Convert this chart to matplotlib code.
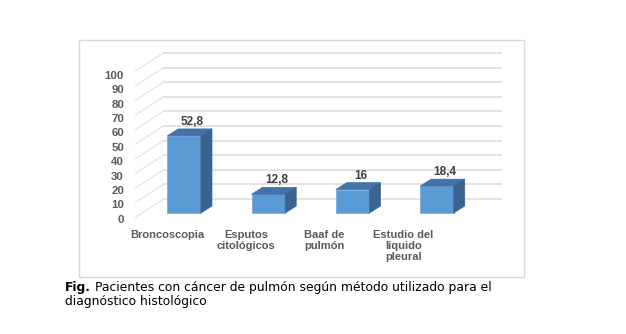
import matplotlib
matplotlib.use("Agg")
import matplotlib.pyplot as plt
from matplotlib.patches import Polygon, Rectangle

categories = ["Broncoscopia", "Esputos\ncitológicos", "Baaf de\npulmón", "Estudio del\nliquido\npleural"]
values = [52.8, 12.8, 16, 18.4]
value_labels = ["52,8", "12,8", "16", "18,4"]
yticks = list(range(0, 101, 10))
caption_bold = "Fig."
caption_line1 = "Pacientes con cáncer de pulmón según método utilizado para el"
caption_line2 = "diagnóstico histológico"

W_PX, H_PX = 626, 334
fig = plt.figure(figsize=(W_PX / 100, H_PX / 100), dpi=100)
fig.patch.set_facecolor("white")

# axes = front plane of the bars (pixels measured from top-left)
ax_l, ax_r, ax_base, ax_top = 142, 479, 213, 67
ax = fig.add_axes([ax_l / W_PX, 1 - ax_base / H_PX, (ax_r - ax_l) / W_PX, (ax_base - ax_top) / H_PX])
ax.set_xlim(-0.5, len(values) - 0.5)
ax.set_ylim(0, 100)
ax.axis("off")

sx = len(values) / (ax_r - ax_l)   # category units per pixel
sy = 100 / (ax_base - ax_top)      # value units per pixel


def off(px, py):
    return px * sx, py * sy


# chart frame
fig.patches.append(Rectangle((79 / W_PX, 1 - 277 / H_PX), 445 / W_PX, 237 / H_PX,
                             transform=fig.transFigure, fill=False, edgecolor="#d9d9d9", lw=1))

grid_c = "#e3e3e3"
bx, by = off(21.5, 14)     # back wall
fx, fy = off(-6.4, -4)     # front edge of floor
x0, x1 = -0.5, len(values) - 0.5
for v in yticks:
    ax.plot([x0 + bx, x1 + bx], [v + by, v + by], color=grid_c, lw=1.4, clip_on=False, zorder=1)
    ax.plot([x0 + fx, x0 + bx], [v + fy, v + by], color=grid_c, lw=0.9, clip_on=False, zorder=1)
    tx, ty = off(-18, -6.8 - v * 0.02)
    ax.text(x0 + tx, v + ty, str(v), ha="right", va="center", fontsize=8.2, fontweight="bold",
            color="#595959", family="Liberation Sans")

# 3D bars
w = 0.40
dx, dy = off(11, 7)
front_c, top_c, side_c = "#5b9bd5", "#4173a8", "#3a6390"
xs = list(range(len(values)))
ax.bar(xs, values, width=w, color=front_c, edgecolor="#6fa8dc", lw=0.5, zorder=3, clip_on=False)
for x, v, lab in zip(xs, values, value_labels):
    l, r = x - w / 2, x + w / 2
    ax.add_patch(Polygon([(l, v), (r, v), (r + dx, v + dy), (l + dx, v + dy)],
                         closed=True, facecolor=top_c, edgecolor=top_c, lw=0.5, zorder=3, clip_on=False))
    ax.add_patch(Polygon([(r, 0), (r + dx, dy), (r + dx, v + dy), (r, v)],
                         closed=True, facecolor=side_c, edgecolor=side_c, lw=0.5, zorder=3, clip_on=False))
    lx, ly = off(8, 14)
    ax.text(x + lx, v + ly, lab, ha="center", va="center", fontsize=8.5, fontweight="bold",
            color="#404040", family="Liberation Sans", zorder=4)

# category labels
for i, cat in enumerate(categories):
    cx, cy = off(-16.5 - 5.75 * i, -17)
    ax.text(i + cx, cy, cat, ha="center", va="top", fontsize=8, fontweight="bold",
            color="#595959", family="Liberation Sans", linespacing=1.15)

# caption: first line sized to span the text block width
cap_l, cap_r = 65, 492
y1, y2 = 1 - 287 / H_PX, 1 - 302 / H_PX
t_bold = fig.text(cap_l / W_PX, y1, caption_bold, family="DejaVu Sans",
                  fontweight="bold", color="black", va="center", ha="left")
t_rest = fig.text(cap_r / W_PX, y1, caption_line1, family="DejaVu Sans",
                  color="black", va="center", ha="right")
t_line2 = fig.text(cap_l / W_PX, y2, caption_line2, family="DejaVu Sans",
                   color="black", va="center", ha="left")
fig.canvas.draw()
renderer = fig.canvas.get_renderer()
cap_fs = 9.0
for _ in range(6):
    for t in (t_bold, t_rest, t_line2):
        t.set_fontsize(cap_fs)
    used = t_bold.get_window_extent(renderer).width + t_rest.get_window_extent(renderer).width
    cap_fs *= (cap_r - cap_l - 5) / used
cap_fs *= 1.008

for t in (t_bold, t_rest, t_line2):
    t.set_fontsize(cap_fs)

fig.savefig("out.png", dpi=100, facecolor="white")
